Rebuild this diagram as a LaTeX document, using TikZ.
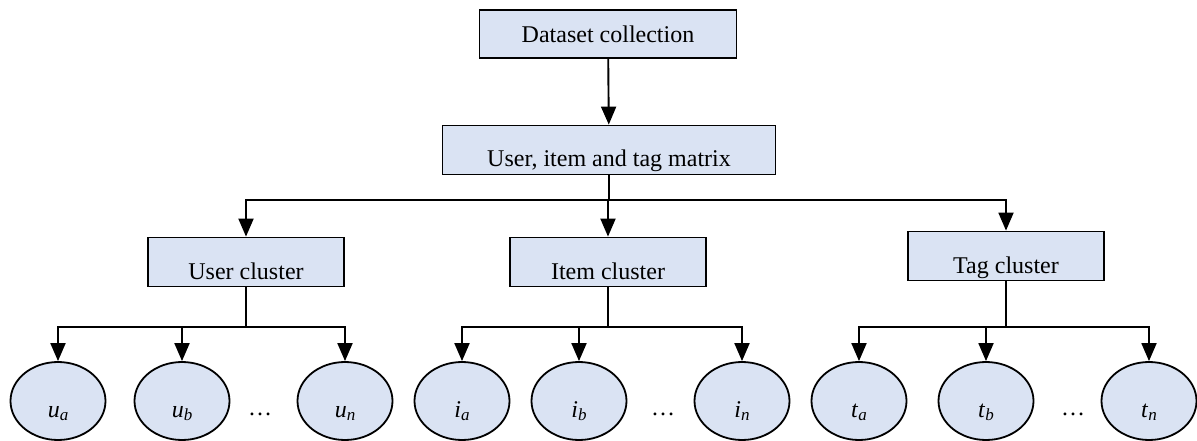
\documentclass[tikz,border=0pt]{standalone}
\usepackage{fontspec}
\setmainfont{Liberation Serif}
\usetikzlibrary{arrows.meta,shapes.geometric}
\definecolor{boxblue}{RGB}{218,227,243}
\newcommand{\ent}[2]{\textit{#1}\raisebox{-0.35ex}{\fontsize{17}{17}\selectfont\textit{#2}}}

\begin{document}
\begin{tikzpicture}[
    x=1pt, y=-1pt,
    font=\fontsize{24}{28}\selectfont,
    stage/.style={draw, line width=1.8pt, fill=boxblue, minimum height=48pt, inner sep=0pt},
    lowtext/.style={text height=34pt, text depth=0pt},
    leaf/.style={ellipse, draw, line width=1.8pt, fill=boxblue, minimum width=95pt, minimum height=78pt, inner sep=0pt, text height=32pt, text depth=0pt},
    link/.style={line width=1.9pt, -{Triangle[width=15pt,length=18pt]}},
    trunk/.style={line width=1.9pt}
    ]
    \useasboundingbox (0,0) rectangle (1197,441);
    % top of the tree
    \node[stage, minimum width=257pt] (data) at (608,34) {Dataset collection};
    \node[stage, lowtext, minimum width=333pt, minimum height=49pt] (matrix) at (609,150) {User, item and tag matrix};
    % clusters
    \node[stage, lowtext, minimum width=196pt, minimum height=49pt] (ucl) at (246,262) {User cluster};
    \node[stage, lowtext, minimum width=196pt, minimum height=49pt] (icl) at (608,262) {Item cluster};
    \node[stage, lowtext, minimum width=196pt, minimum height=49pt] (tcl) at (1006,256) {Tag cluster};
    % leaves
    \node[leaf] (ua) at (58,401) {\ent{u}{a}};
    \node[leaf] (ub) at (182,401) {\ent{u}{b}};
    \node[leaf] (un) at (345,401) {\ent{u}{n}};
    \node (udots) at (260,414) {…};
    \node[leaf] (ia) at (462,401) {\ent{i}{a}};
    \node[leaf] (ib) at (579,401) {\ent{i}{b}};
    \node[leaf] (in) at (742,401) {\ent{i}{n}};
    \node (idots) at (663,414) {…};
    \node[leaf] (ta) at (859,401) {\ent{t}{a}};
    \node[leaf] (tb) at (986,401) {\ent{t}{b}};
    \node[leaf] (tn) at (1149,401) {\ent{t}{n}};
    \node (tdots) at (1073,414) {…};
    % connectors
    \draw[link] (data) -- (matrix);
    \path (matrix.south) ++(0,25) coordinate (msplit);
    \draw[trunk] (matrix.south) -- (msplit);
    \draw[link] (msplit) -| (ucl.north);
    \draw[link] (msplit) -| (icl.north);
    \draw[link] (msplit) -| (tcl.north);
    \path (ucl.south) ++(0,40) coordinate (usplit);
    \draw[trunk] (ucl.south) -- (usplit);
    \draw[link] (usplit) -| (ua.north);
    \draw[link] (usplit) -| (ub.north);
    \draw[link] (usplit) -| (un.north);
    \path (icl.south) ++(0,40) coordinate (isplit);
    \draw[trunk] (icl.south) -- (isplit);
    \draw[link] (isplit) -| (ia.north);
    \draw[link] (isplit) -| (ib.north);
    \draw[link] (isplit) -| (in.north);
    \path (tcl.south) ++(0,46) coordinate (tsplit);
    \draw[trunk] (tcl.south) -- (tsplit);
    \draw[link] (tsplit) -| (ta.north);
    \draw[link] (tsplit) -| (tb.north);
    \draw[link] (tsplit) -| (tn.north);
\end{tikzpicture}
\end{document}
